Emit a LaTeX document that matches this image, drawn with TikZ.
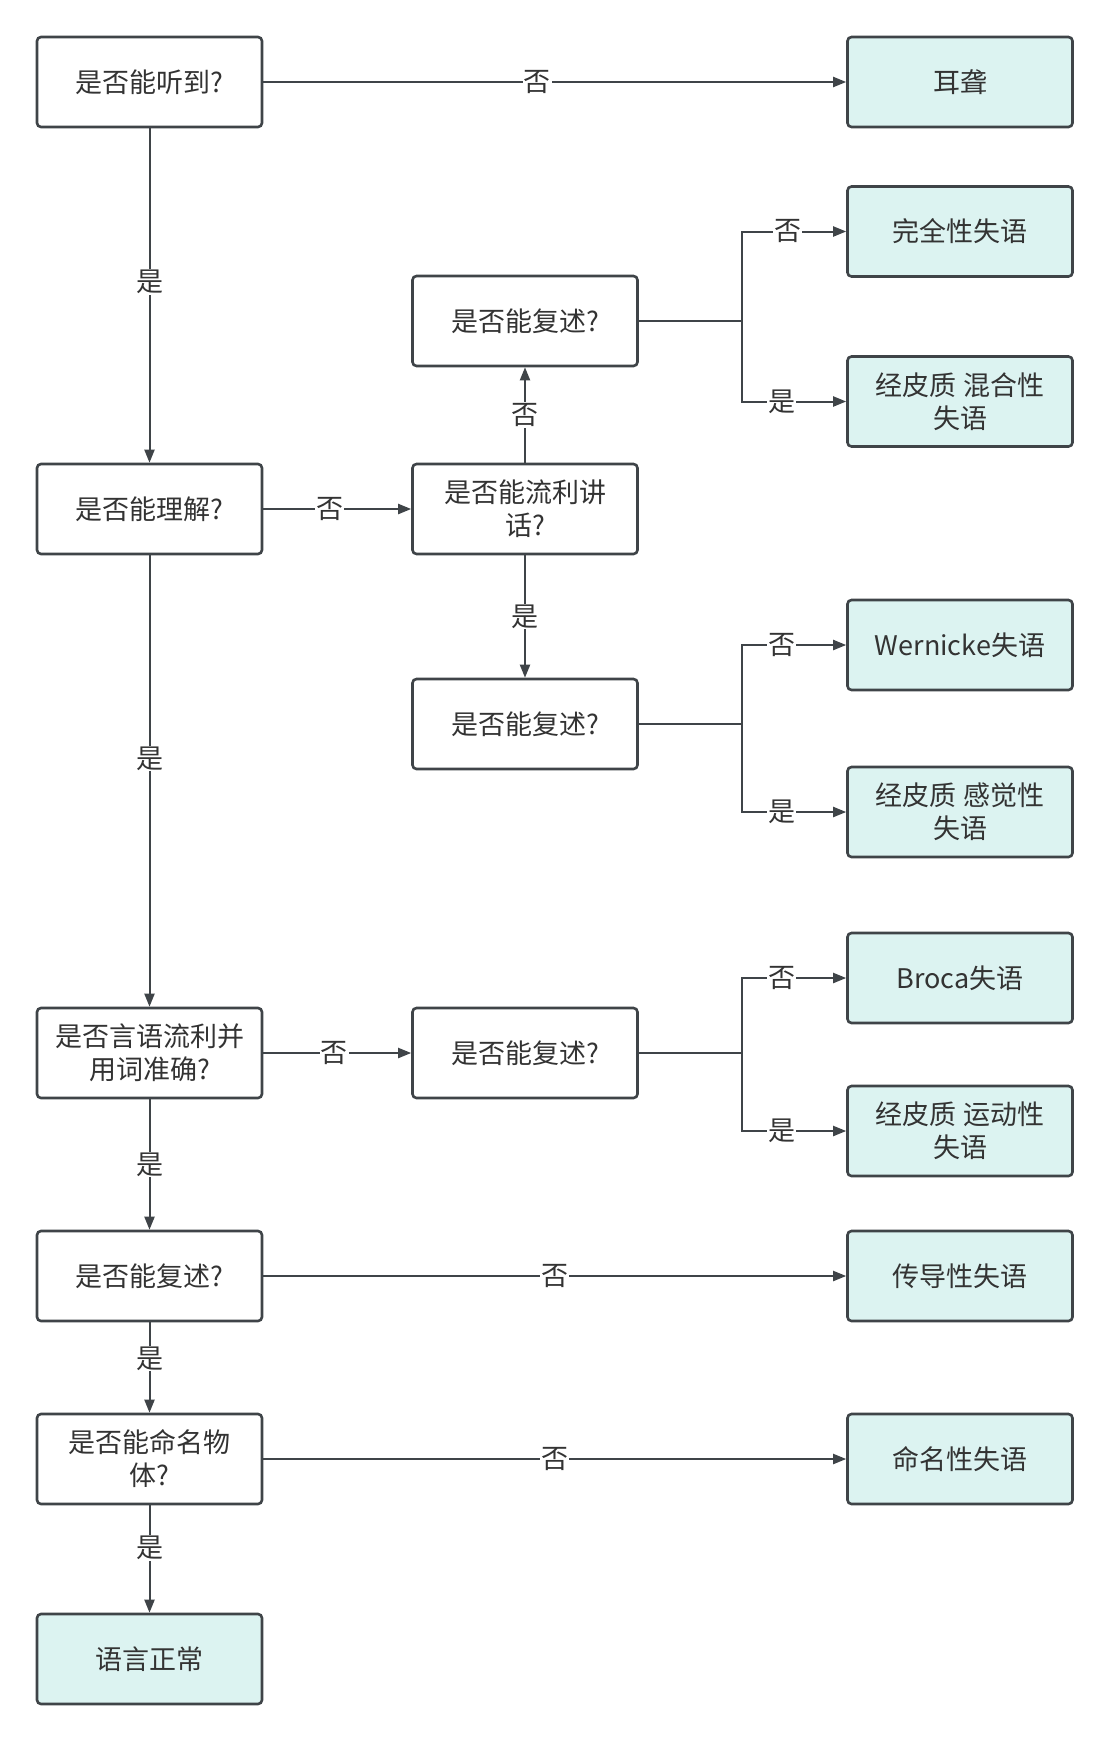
\documentclass[tikz,border=0pt]{standalone}
\usepackage{fontspec}
\setmainfont{Noto Sans CJK SC}
\usetikzlibrary{arrows.meta}

\definecolor{edgegray}{HTML}{3F4448}
\definecolor{textgray}{HTML}{333333}
\definecolor{leafcyan}{HTML}{DCF3F1}

\tikzset{
  ask/.style={draw=edgegray, line width=2.6pt, rounded corners=4pt, fill=white,
    minimum width=225pt, minimum height=90pt, align=center, text=textgray,
    font=\fontsize{27}{33}\selectfont},
  leaf/.style={ask, fill=leafcyan},
  link/.style={draw=edgegray, line width=2pt, -{Triangle[length=13pt,width=10pt]}},
  plain/.style={draw=edgegray, line width=2pt},
  lbl/.style={fill=white, inner sep=1pt, text=textgray, font=\fontsize{27}{30}\selectfont}
}

\begin{document}
\begin{tikzpicture}[x=1pt, y=-1pt]
        \useasboundingbox (0,0) rectangle (1110,1743);
        % left column
        \node [ask] (hear) at (149.5, 82) {是否能听到?};
        \node [ask] (comp) at (149.5, 509) {是否能理解?};
        \node [ask] (flu) at (149.5, 1053) {是否言语流利并\\用词准确?};
        \node [ask] (rep) at (149.5, 1276) {是否能复述?};
        \node [ask] (name) at (149.5, 1459) {是否能命名物\\体?};
        \node [leaf] (normal) at (149.5, 1659) {语言正常};
        % middle column
        \node [ask] (repA) at (525, 321) {是否能复述?};
        \node [ask] (speak) at (525, 509) {是否能流利讲\\话?};
        \node [ask] (repB) at (525, 724) {是否能复述?};
        \node [ask] (repC) at (525, 1053) {是否能复述?};
        % right column
        \node [leaf] (deaf) at (960, 82) {耳聋};
        \node [leaf] (global) at (960, 231.5) {完全性失语};
        \node [leaf] (mixed) at (960, 401.5) {经皮质 混合性\\失语};
        \node [leaf] (wern) at (960, 645) {Wernicke失语};
        \node [leaf] (sens) at (960, 812) {经皮质 感觉性\\失语};
        \node [leaf] (broca) at (960, 978) {Broca失语};
        \node [leaf] (motor) at (960, 1131) {经皮质 运动性\\失语};
        \node [leaf] (cond) at (960, 1276) {传导性失语};
        \node [leaf] (anom) at (960, 1459) {命名性失语};
        % branch points
        \coordinate (forkA) at (742, 321);
        \coordinate (forkB) at (742, 724);
        \coordinate (forkC) at (742, 1053);

        \draw [link] (hear) -- node [lbl, pos=0.47] {否} (deaf);
        \draw [link] (hear) -- node [lbl, pos=0.46] {是} (comp);
        \draw [link] (comp) -- node [lbl, pos=0.45] {否} (speak);
        \draw [link] (comp) -- node [lbl, pos=0.45] {是} (flu);
        \draw [link] (speak) -- node [lbl] {否} (repA);
        \draw [link] (speak) -- node [lbl] {是} (repB);
        \draw [link] (flu) -- node [lbl, pos=0.48] {否} (repC);
        \draw [link] (flu) -- node [lbl] {是} (rep);
        \draw [link] (rep) -- node [lbl, pos=0.5] {否} (cond);
        \draw [link] (rep) -- node [lbl, pos=0.4] {是} (name);
        \draw [link] (name) -- node [lbl, pos=0.4] {是} (normal);
        \draw [link] (name) -- node [lbl, pos=0.5] {否} (anom);

        \draw [plain] (repA) -- (forkA);
        \draw [link] (forkA) |- node [lbl, pos=0.72] {否} (global);
        \draw [link] (forkA) |- node [lbl, pos=0.69] {是} (mixed);
        \draw [plain] (repB) -- (forkB);
        \draw [link] (forkB) |- node [lbl, pos=0.69] {否} (wern);
        \draw [link] (forkB) |- node [lbl, pos=0.69] {是} (sens);
        \draw [plain] (repC) -- (forkC);
        \draw [link] (forkC) |- node [lbl, pos=0.69] {否} (broca);
        \draw [link] (forkC) |- node [lbl, pos=0.69] {是} (motor);
      \end{tikzpicture}
\end{document}
